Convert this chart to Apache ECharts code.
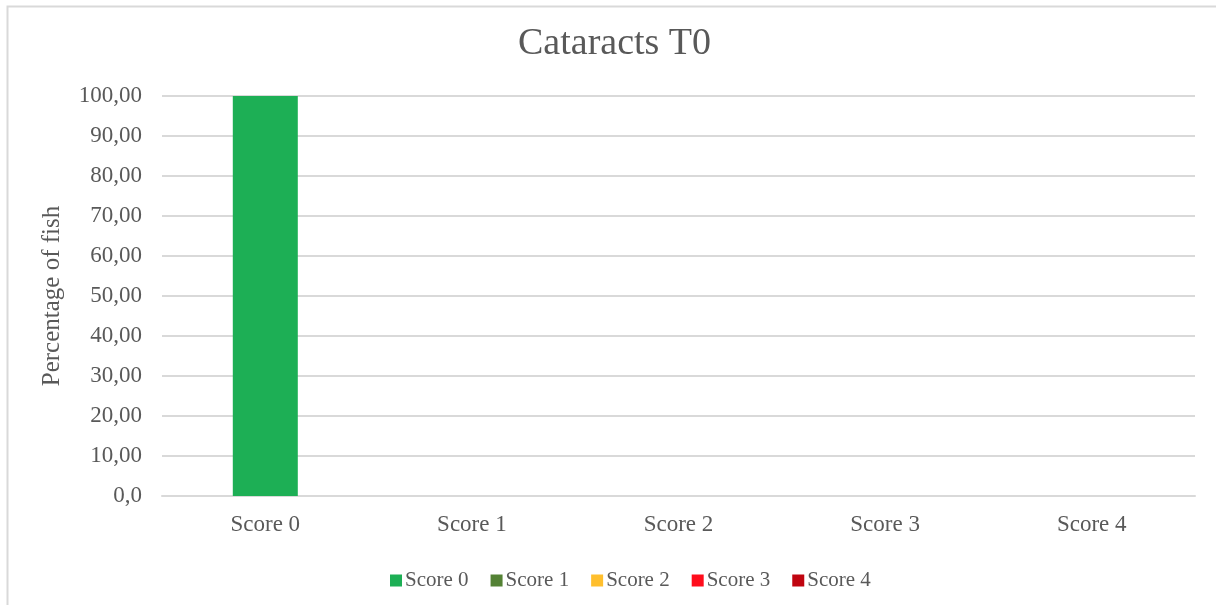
<!DOCTYPE html>
<html>
<head>
<meta charset="utf-8">
<script src="https://cdn.jsdelivr.net/npm/echarts@6/dist/echarts.min.js"></script>
<style>
  html, body { margin: 0; padding: 0; background: #ffffff; }
  #chart { width: 1216px; height: 605px; }
</style>
</head>
<body>
<div id="chart"></div>
<script>
// Categories on the x axis
const categories = ['Score 0', 'Score 1', 'Score 2', 'Score 3', 'Score 4'];
// Percentage of fish per score (one series per score)
const seriesNames = ['Score 0', 'Score 1', 'Score 2', 'Score 3', 'Score 4'];
const score0 = [100, 0, 0, 0, 0];
const score1 = [0, 0, 0, 0, 0];
const score2 = [0, 0, 0, 0, 0];
const score3 = [0, 0, 0, 0, 0];
const score4 = [0, 0, 0, 0, 0];
const seriesColors = ['#1DAF55', '#548235', '#FFBF2D', '#FF0D1C', '#C00510'];

const values = [score0, score1, score2, score3, score4];
const font = '"Liberation Serif", "DejaVu Serif", serif';

const chart = echarts.init(document.getElementById('chart'));
chart.setOption({
  animation: false,
  backgroundColor: '#ffffff',
  graphic: [{
    type: 'rect',
    shape: { x: 7.5, y: 6.5, width: 1220, height: 620 },
    style: { fill: 'none', stroke: '#d9d9d9', lineWidth: 2 },
    silent: true
  }],
  title: {
    text: 'Cataracts T0',
    left: 513,
    top: 20,
    textStyle: { fontFamily: font, fontSize: 38, fontWeight: 'normal', color: '#595959' }
  },
  legend: {
    bottom: 9,
    left: 385,
    itemWidth: 12,
    itemHeight: 12,
    itemGap: 22,
    icon: 'rect',
    textStyle: { fontFamily: font, fontSize: 21, color: '#595959', padding: [0, 0, 0, -2] },
    data: seriesNames
  },
  grid: { left: 162, right: 21, top: 96, bottom: 109, containLabel: false },
  xAxis: {
    type: 'category',
    data: categories,
    axisLine: { show: true, lineStyle: { color: '#d9d9d9', width: 2 } },
    axisTick: { show: false },
    axisLabel: { fontFamily: font, fontSize: 23, color: '#595959', margin: 17 }
  },
  yAxis: {
    type: 'value',
    min: 0,
    max: 100,
    interval: 10,
    name: 'Percentage of fish',
    nameLocation: 'middle',
    nameGap: 97,
    nameTextStyle: { fontFamily: font, fontSize: 25, color: '#595959' },
    axisLine: { show: false },
    axisTick: { show: false },
    axisLabel: {
      fontFamily: font, fontSize: 23, color: '#595959', margin: 20,
      formatter: function (v) { return v === 0 ? '0,0' : v.toFixed(2).replace('.', ','); }
    },
    splitLine: { lineStyle: { color: '#d9d9d9', width: 2 } }
  },
  series: seriesNames.map(function (name, i) {
    return {
      name: name,
      type: 'bar',
      stack: 'total',
      barWidth: 65,
      data: values[i],
      itemStyle: { color: seriesColors[i] }
    };
  })
});
</script>
</body>
</html>
